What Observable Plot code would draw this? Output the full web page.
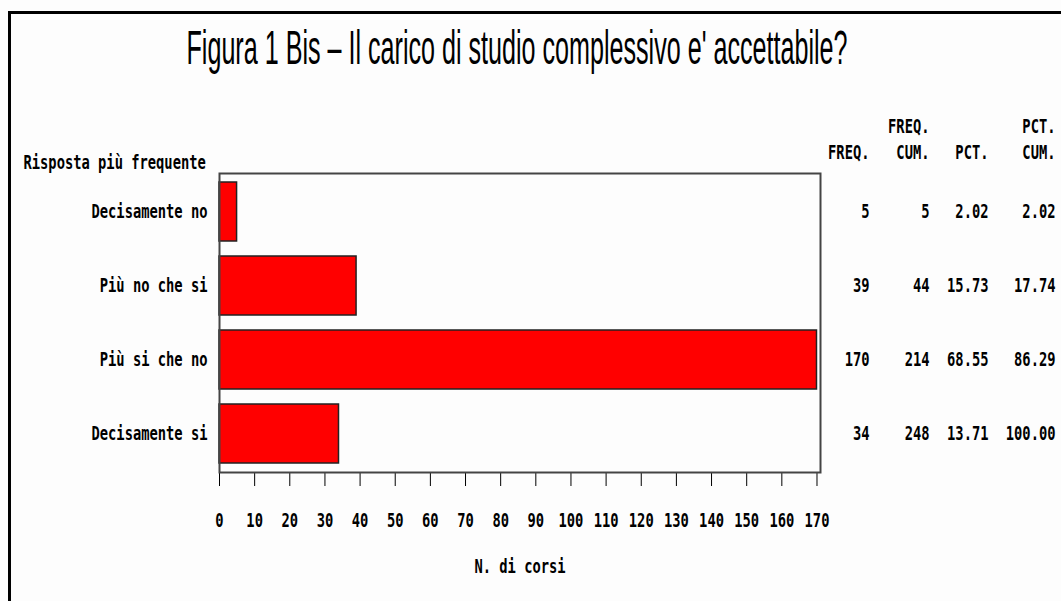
<!DOCTYPE html>
<html>
<head>
<meta charset="utf-8">
<script src="https://cdn.jsdelivr.net/npm/d3@7"></script>
<script src="https://cdn.jsdelivr.net/npm/@observablehq/plot@0.6"></script>
<style>
  html, body { margin: 0; padding: 0; background: #fdfdfd; }
  #page { position: relative; width: 1061px; height: 601px; overflow: hidden; background: #fdfdfd; }
  #border { position: absolute; left: 8px; top: 11px; width: 1060px; height: 600px;
            border-top: 3px solid #000; border-left: 3px solid #000; box-sizing: border-box; pointer-events: none; }
  #title { position: relative; height: 100px; }
  #title span { position: absolute; left: 517px; top: 24px; white-space: nowrap;
                font-family: "Liberation Sans", Arial, sans-serif; font-size: 48px; line-height: 1;
                color: #000; transform-origin: 0 0; }
  #chart svg { display: block; }
</style>
</head>
<body>
<div id="page">
  <div id="title"><span id="titleText">Figura 1 Bis – Il carico di studio complessivo e' accettabile?</span></div>
  <div id="chart"></div>
  <div id="border"></div>
</div>
<script>
// ---- data ----
const categories = ["Decisamente no", "Più no che si", "Più si che no", "Decisamente si"];
const freq = [5, 39, 170, 34];
const freqCum = [5, 44, 214, 248];
const pct = [2.02, 15.73, 68.55, 13.71];
const pctCum = [2.02, 17.74, 86.29, 100.00];
const xTicks = [0, 10, 20, 30, 40, 50, 60, 70, 80, 90, 100, 110, 120, 130, 140, 150, 160, 170];
const tableHeaders = ["FREQ.", "FREQ.\nCUM.", "PCT.", "PCT.\nCUM."];
const yTitle = "Risposta più frequente";
const xTitle = "N. di corsi";

// ---- table built from the arrays ----
const rows = categories.map((c, i) => ({cat: c, freq: freq[i], freqCum: freqCum[i], pct: pct[i], pctCum: pctCum[i]}));
const columns = [
  d => String(d.freq),
  d => String(d.freqCum),
  d => d.pct.toFixed(2),
  d => d.pctCum.toFixed(2)
];
const colDx = [49, 109, 168, 235];

const FONT = "'DejaVu Sans Mono', monospace";

const marks = [
  Plot.barX(rows, {x: "freq", y: "cat", fill: "#ff0000", stroke: "#222", strokeWidth: 1.5}),
  Plot.frame({stroke: "#444", strokeWidth: 2}),
  Plot.text([yTitle], {frameAnchor: "top-left", textAnchor: "start", lineAnchor: "bottom", dx: -196, dy: -5}),
  Plot.text([xTitle], {frameAnchor: "bottom", lineAnchor: "middle", dy: 94})
];
columns.forEach((fn, i) => {
  marks.push(Plot.text(rows, {y: "cat", text: fn, frameAnchor: "right", textAnchor: "end", dx: colDx[i]}));
  marks.push(Plot.text([tableHeaders[i]], {frameAnchor: "top-right", textAnchor: "end", lineAnchor: "bottom",
                                          dx: colDx[i], dy: -15, lineHeight: 1.35}));
});

const chart = Plot.plot({
  width: 1061,
  height: 501,
  marginTop: 73,
  marginLeft: 219,
  marginRight: 241,
  marginBottom: 129,
  style: {fontFamily: FONT, fontSize: "19px", fontWeight: "bold", background: "transparent", color: "#000", overflow: "visible"},
  x: {domain: [0, 171], ticks: xTicks, tickSize: 14, tickPadding: 27, label: null},
  y: {domain: categories, paddingInner: 0.2, paddingOuter: 0.1, tickSize: 0, tickPadding: 12, label: null},
  marks
});
document.getElementById("chart").appendChild(chart);

// condense the text horizontally (about each text's own anchor) to mimic the narrow SAS font
const CONDENSE = 0.725;
chart.querySelectorAll("text").forEach(t => {
  const tr = t.getAttribute("transform");
  if (tr) {
    t.setAttribute("transform", `${tr} scale(${CONDENSE},1)`);
  } else {
    const tsp = t.querySelectorAll("tspan");
    const els = tsp.length ? Array.from(tsp) : [t];
    els.forEach(e => {
      const L = e.getComputedTextLength();
      if (L > 0) {
        e.setAttribute("textLength", (L * CONDENSE).toFixed(2));
        e.setAttribute("lengthAdjust", "spacingAndGlyphs");
      }
    });
  }
});

// title: fit to the reference width
const tt = document.getElementById("titleText");
const w = tt.getBoundingClientRect().width;
tt.style.transform = `scaleX(${661 / w}) translateX(-50%)`;
</script>
</body>
</html>
